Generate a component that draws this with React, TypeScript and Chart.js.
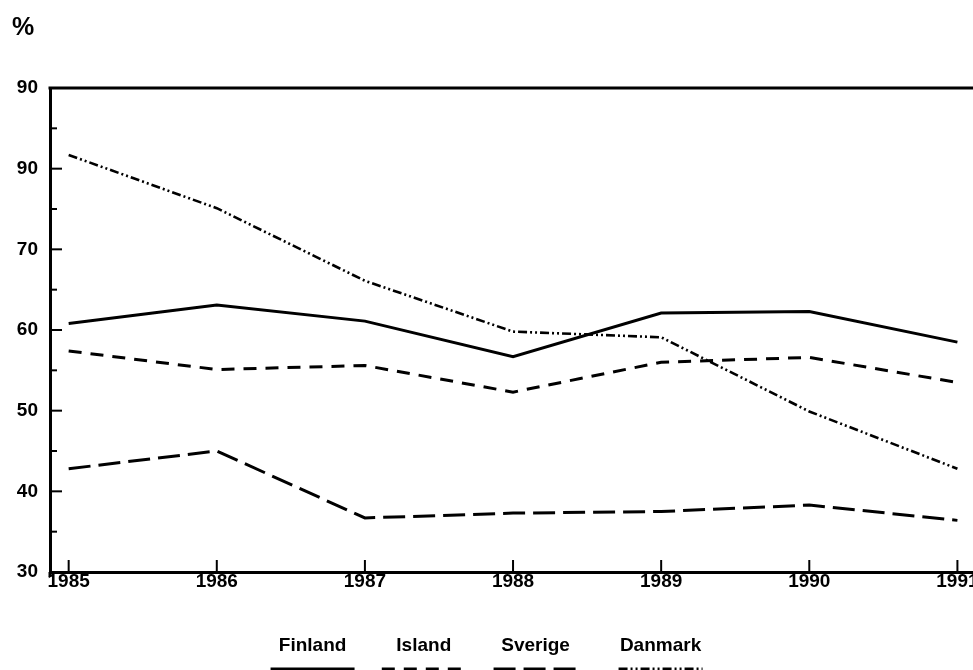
import React, { useEffect, useRef } from 'react';
import { Chart, registerables } from 'chart.js';

Chart.register(...registerables);

const years = [1985, 1986, 1987, 1988, 1989, 1990, 1991];
const yearLabels = ['1985', '1986', '1987', '1988', '1989', '1990', '1991'];

const finland = [60.8, 63.1, 61.1, 56.7, 62.1, 62.3, 58.5];
const island = [57.4, 55.1, 55.6, 52.3, 56.0, 56.6, 53.5];
const sverige = [42.8, 45.0, 36.7, 37.3, 37.5, 38.3, 36.4];
const danmark = [81.7, 75.1, 66.1, 59.8, 59.1, 49.9, 42.8];

const seriesNames = ['Finland', 'Island', 'Sverige', 'Danmark'];
const seriesValues = [finland, island, sverige, danmark];

const yMajorTicks = [30, 40, 50, 60, 70, 80, 90];
const yTickLabels = ['30', '40', '50', '60', '70', '90', '90'];
const yMinorTicks = [35, 45, 55, 65, 75, 85];

const unitLabel = '%';

const FONT = '"Liberation Sans", Arial, Helvetica, sans-serif';

const dashPatterns: number[][] = [[], [13, 9], [22, 8], [9, 3, 2, 3, 2, 3]];
const lineWidths = [3, 3, 3, 2.6];

const decorPlugin = {
  id: 'decor',
  afterDraw(chart: any) {
    const { ctx, chartArea, scales } = chart;
    const { left, top, bottom } = chartArea;
    const xs = scales.x;
    const ys = scales.y;
    ctx.save();
    ctx.strokeStyle = '#000';
    ctx.fillStyle = '#000';
    ctx.setLineDash([]);
    // top frame line
    ctx.lineWidth = 3;
    ctx.beginPath();
    ctx.moveTo(left - 1.5, top);
    ctx.lineTo(chart.width, top);
    ctx.stroke();
    // y axis slight extension below
    ctx.beginPath();
    ctx.moveTo(left, bottom);
    ctx.lineTo(left, bottom + 5);
    ctx.stroke();
    // inward ticks on y
    ctx.lineWidth = 2;
    const yt = [...yMajorTicks.slice(1, -1).map((v) => [v, 12]), ...yMinorTicks.map((v) => [v, 7])];
    yt.forEach(([v, len]) => {
      const py = ys.getPixelForValue(v);
      ctx.beginPath();
      ctx.moveTo(left, py);
      ctx.lineTo(left + len, py);
      ctx.stroke();
    });
    // inward ticks on x
    years.forEach((v) => {
      const px = xs.getPixelForValue(v);
      ctx.beginPath();
      ctx.moveTo(px, bottom);
      ctx.lineTo(px, bottom - 12);
      ctx.stroke();
    });
    // unit label
    ctx.font = `bold 25px ${FONT}`;
    ctx.textAlign = 'left';
    ctx.textBaseline = 'middle';
    ctx.fillText(unitLabel, 12, 28);
    // legend
    ctx.font = `bold 19px ${FONT}`;
    const gap = 50;
    const widths = seriesNames.map((n) => ctx.measureText(n).width);
    const total = widths.reduce((a, b) => a + b, 0) + gap * (seriesNames.length - 1);
    let x0 = 490 - total / 2;
    const textY = 646;
    seriesNames.forEach((name, i) => {
      const w = widths[i];
      const cx = x0 + w / 2;
      ctx.textAlign = 'center';
      ctx.textBaseline = 'middle';
      ctx.fillText(name, cx, textY);
      ctx.lineWidth = 7;
      ctx.setLineDash(dashPatterns[i]);
      ctx.beginPath();
      ctx.moveTo(cx - 42, 671);
      ctx.lineTo(cx + 42, 671);
      ctx.stroke();
      ctx.setLineDash([]);
      x0 += w + gap;
    });
    ctx.restore();
  },
};

export default function App() {
  const canvasRef = useRef<HTMLCanvasElement | null>(null);

  useEffect(() => {
    const canvas = canvasRef.current;
    if (!canvas) return;
    const chart = new Chart(canvas, {
      type: 'line',
      data: {
        datasets: seriesNames.map((name, i) => ({
          label: name,
          data: years.map((yr, j) => ({ x: yr, y: seriesValues[i][j] })),
          borderColor: '#000',
          backgroundColor: '#000',
          borderWidth: lineWidths[i],
          borderDash: dashPatterns[i],
          pointRadius: 0,
          tension: 0,
          fill: false,
        })),
      },
      options: {
        animation: false,
        responsive: false,
        devicePixelRatio: 1,
        layout: { padding: { left: 0, top: 88, right: 10, bottom: 0 } },
        plugins: {
          legend: { display: false },
          tooltip: { enabled: false },
          title: { display: false },
        },
        scales: {
          x: {
            type: 'linear',
            min: 1984.874,
            max: 1991.22,
            afterBuildTicks: (scale: any) => {
              scale.ticks = years.map((v) => ({ value: v }));
            },
            afterFit: (scale: any) => {
              scale.height = 98;
            },
            grid: { display: false, drawTicks: false },
            border: { display: true, color: '#000', width: 3 },
            ticks: {
              color: '#000',
              padding: -2,
              maxRotation: 0,
              autoSkip: false,
              font: { family: FONT, size: 19, weight: 'bold' },
              callback: (v: any) => {
                const idx = years.indexOf(Number(v));
                return idx >= 0 ? yearLabels[idx] : '';
              },
            },
          },
          y: {
            type: 'linear',
            min: 30,
            max: 90,
            afterBuildTicks: (scale: any) => {
              scale.ticks = yMajorTicks.map((v) => ({ value: v }));
            },
            afterFit: (scale: any) => {
              scale.width = 50;
            },
            grid: { display: false, drawTicks: false },
            border: { display: true, color: '#000', width: 3 },
            ticks: {
              color: '#000',
              padding: 12,
              autoSkip: false,
              font: { family: FONT, size: 19, weight: 'bold' },
              callback: (v: any) => {
                const idx = yMajorTicks.indexOf(Number(v));
                return idx >= 0 ? yTickLabels[idx] : '';
              },
            },
          },
        },
      },
      plugins: [decorPlugin],
    } as any);
    return () => chart.destroy();
  }, []);

  return (
    <div
      style={{
        position: 'absolute',
        left: 0,
        top: 0,
        width: 973,
        height: 670,
        overflow: 'hidden',
        background: '#fff',
      }}
    >
      <canvas ref={canvasRef} width={1000} height={670} style={{ width: 1000, height: 670, display: 'block' }} />
    </div>
  );
}
